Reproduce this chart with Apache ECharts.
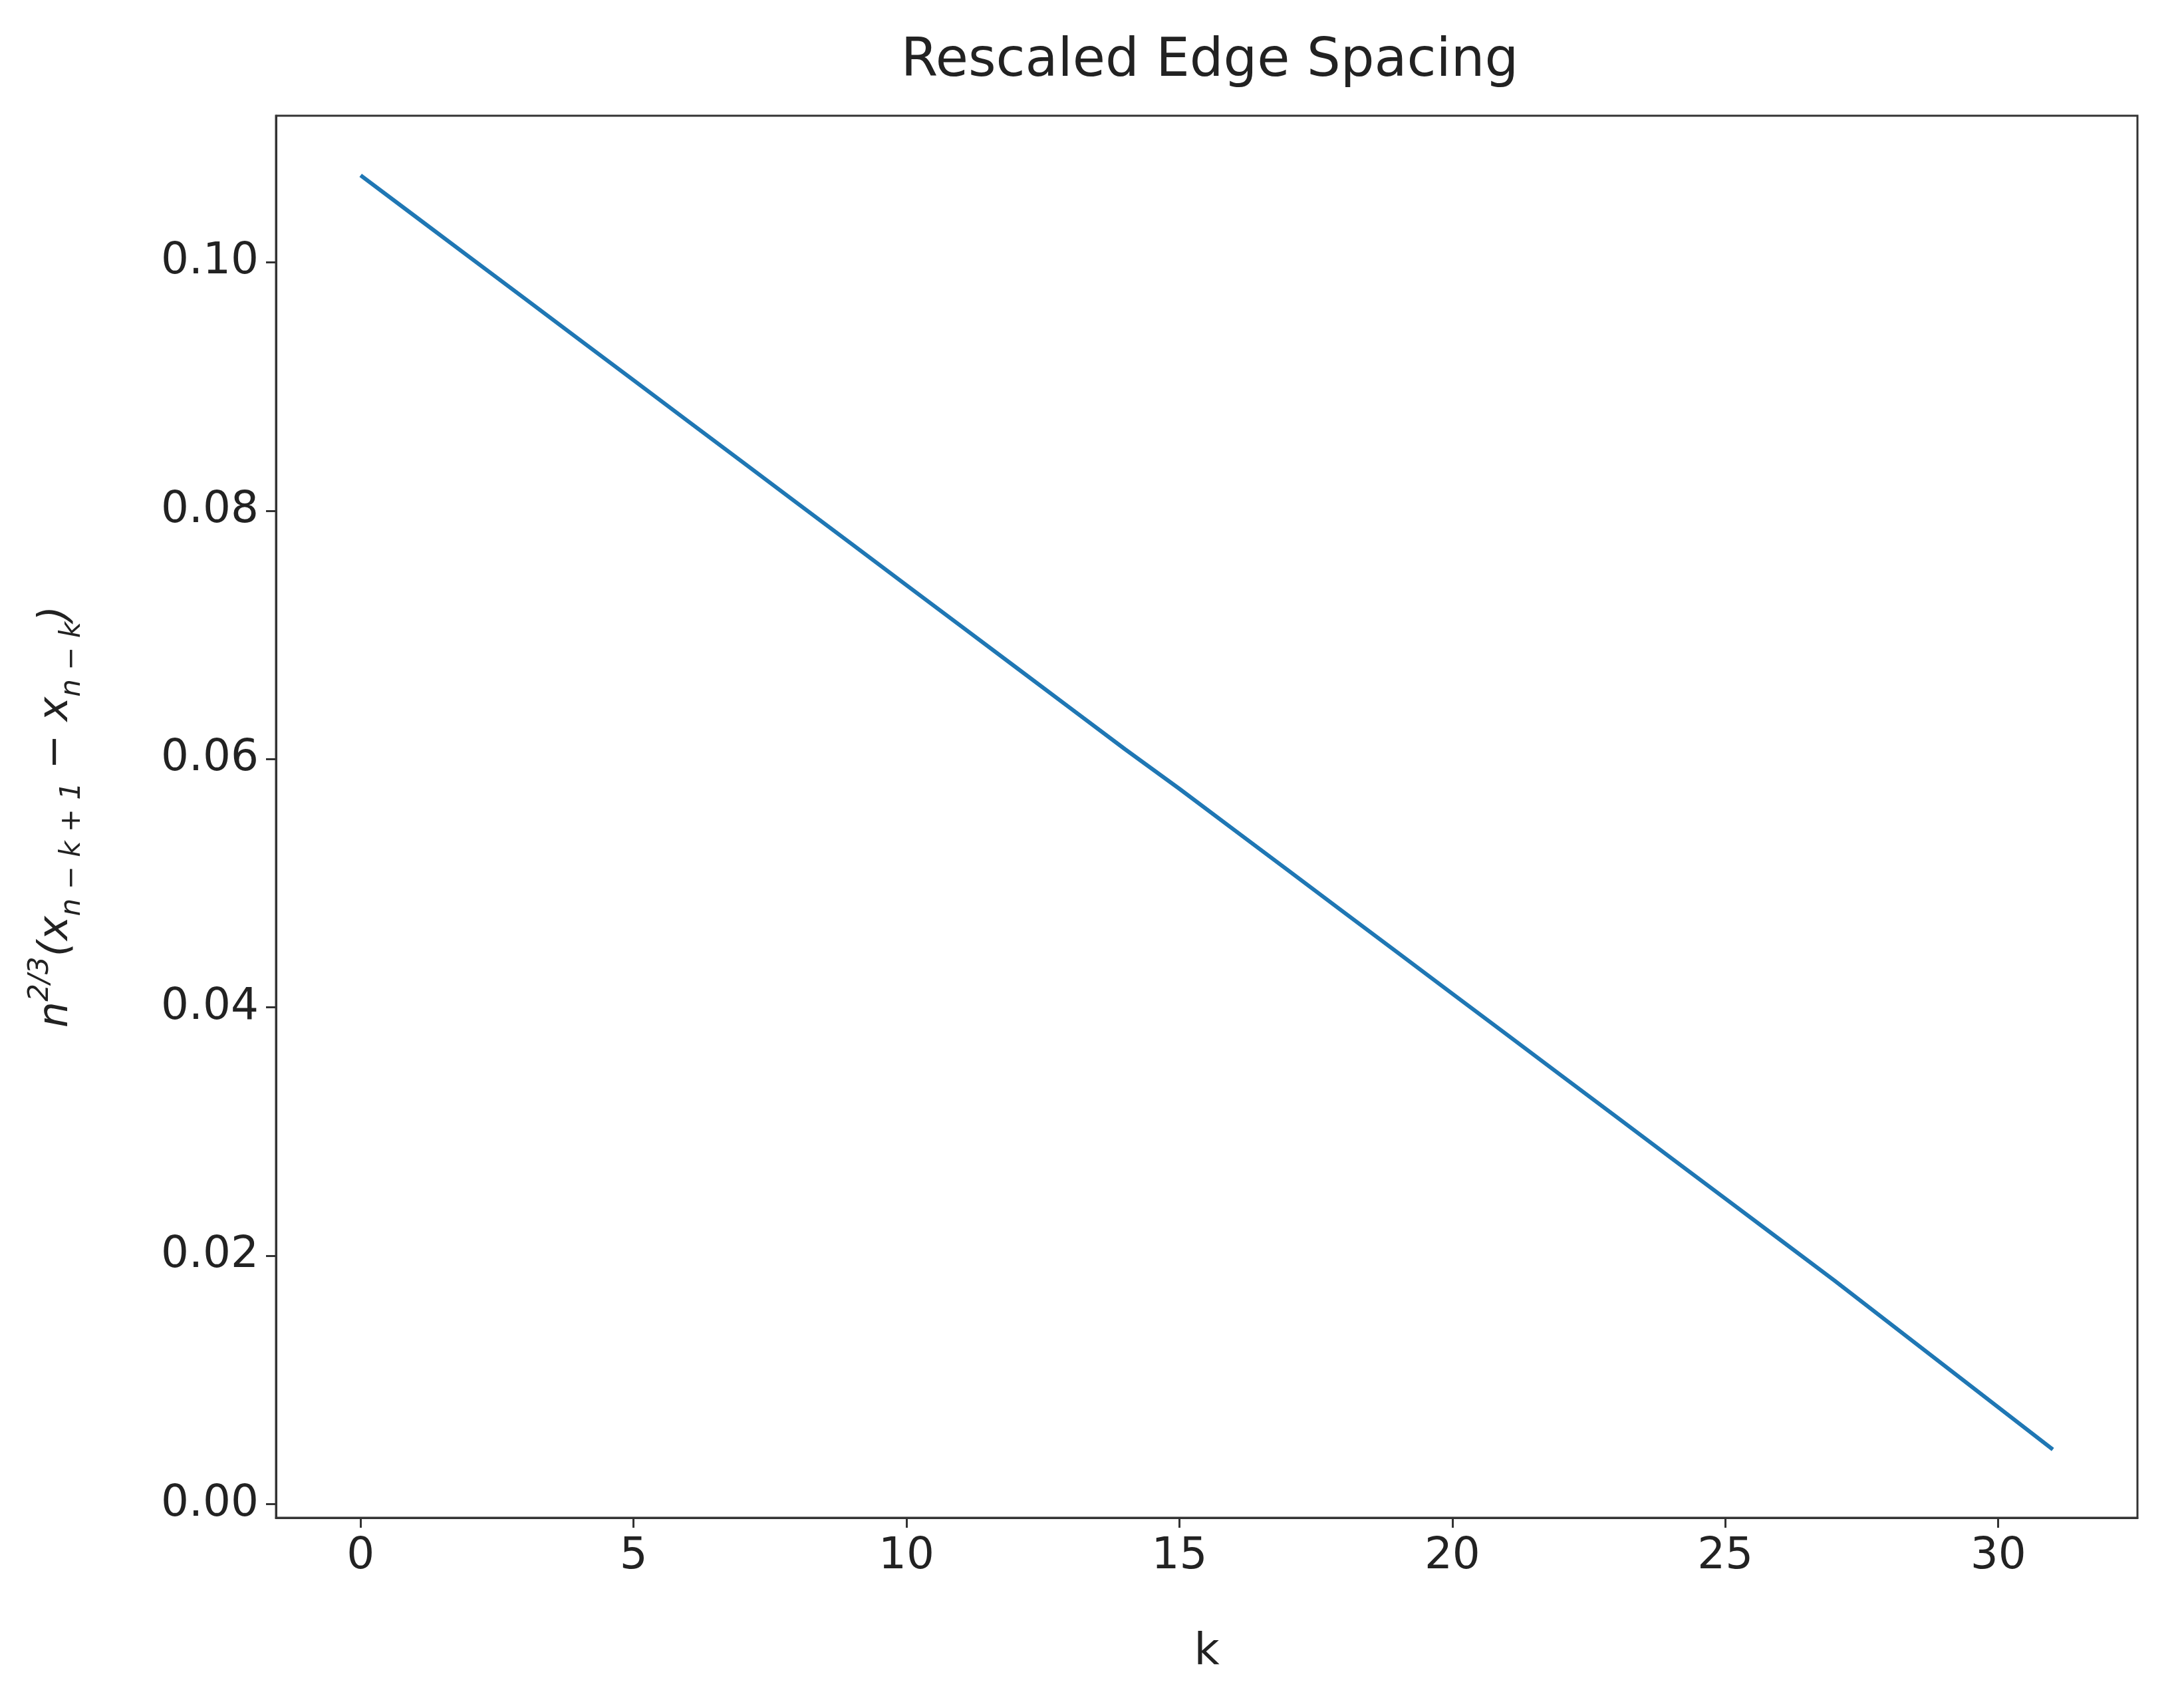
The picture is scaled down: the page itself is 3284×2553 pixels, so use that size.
<!DOCTYPE html>
<html>
<head>
<meta charset="utf-8">
<script src="https://cdn.jsdelivr.net/npm/echarts@6/dist/echarts.min.js"></script>
<style>html,body{margin:0;padding:0;background:#fff}#main{width:3284px;height:2553px}</style>
</head>
<body>
<div id="main"></div>
<script>
// k values and rescaled spacing
var kValues = [0,1,2,3,4,5,6,7,8,9,10,11,12,13,14,15,16,17,18,19,20,21,22,23,24,25,26,27,28,29,30,31];
var spacing = [0.1070,0.1037,0.1004,0.0971,0.0938,0.0905,0.0872,0.0839,0.0806,0.0773,
               0.0740,0.0707,0.0674,0.0641,0.0608,0.0576,0.0543,0.0510,0.0477,0.0444,
               0.0411,0.0378,0.0345,0.0312,0.0279,0.0246,0.0213,0.0180,0.0146,0.0112,0.0078,0.0044];
var xTicks = [0,5,10,15,20,25,30];
var yTicks = [0,0.02,0.04,0.06,0.08,0.10];

var font = 'DejaVu Sans';
var myChart = echarts.init(document.getElementById('main'));
var option = {
  backgroundColor: '#fff',
  animation: false,
  title: {
    text: 'Rescaled Edge Spacing',
    left: 1814, top: 48, textAlign: 'center',
    textStyle: {fontFamily: font, fontSize: 80, fontWeight: 'normal', color: '#222'}
  },
  grid: {left: 415, right: 70, top: 174, bottom: 271},
  xAxis: {
    type: 'value', min: -1.55, max: 32.55,
    name: 'k', nameLocation: 'middle', nameGap: 170,
    nameTextStyle: {fontFamily: font, fontSize: 66, color: '#222'},
    axisLine: {show: true, onZero: false, lineStyle: {color: '#333', width: 3}},
    axisTick: {show: true, length: 15, customValues: xTicks, lineStyle: {color: '#333', width: 3}},
    axisLabel: {customValues: xTicks, margin: 26, fontFamily: font, fontSize: 66, color: '#222'},
    splitLine: {show: false}
  },
  yAxis: {
    type: 'value', min: -0.0011, max: 0.1118,
    name: '{it|n}{sup|2/3}{it|(x}{sub|n − k + 1}{it| − x}{sub|n − k}{it|)}',
    nameLocation: 'middle', nameGap: 285, nameRotate: 90,
    nameTextStyle: {
      fontFamily: font, color: '#222',
      rich: {
        it: {fontFamily: font, fontStyle: 'italic', fontSize: 62, lineHeight: 90, verticalAlign: 'middle'},
        sup: {fontFamily: font, fontStyle: 'italic', fontSize: 42, lineHeight: 90, verticalAlign: 'top'},
        sub: {fontFamily: font, fontStyle: 'italic', fontSize: 42, lineHeight: 90, verticalAlign: 'bottom'}
      }
    },
    axisLine: {show: true, onZero: false, lineStyle: {color: '#333', width: 3}},
    axisTick: {show: true, length: 15, customValues: yTicks, lineStyle: {color: '#333', width: 3}},
    axisLabel: {customValues: yTicks, margin: 26, fontFamily: font, fontSize: 66, color: '#222',
      formatter: function (v) { return v.toFixed(2); }},
    splitLine: {show: false}
  },
  series: [{
    type: 'line',
    data: kValues.map(function (k, i) { return [k, spacing[i]]; }),
    showSymbol: false,
    lineStyle: {color: '#1f77b4', width: 6}
  }],
  graphic: [{
    type: 'rect', z: 10, silent: true,
    shape: {x: 415, y: 174, width: 2799, height: 2108},
    style: {fill: 'none', stroke: '#333', lineWidth: 3}
  }]
};
myChart.setOption(option);
</script>
</body>
</html>
